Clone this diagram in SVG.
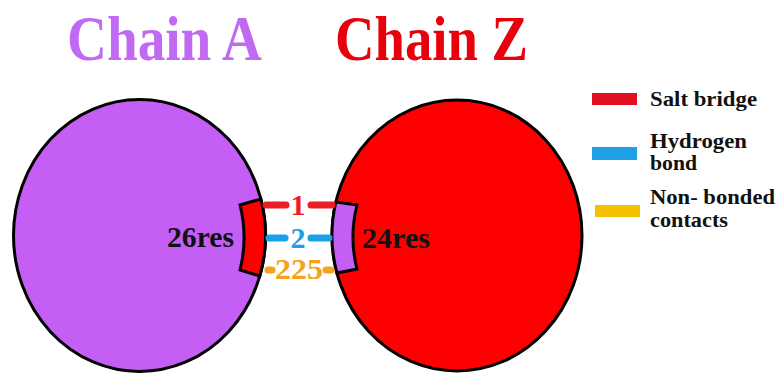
<svg xmlns="http://www.w3.org/2000/svg" width="777" height="373" viewBox="0 0 777 373">
  <style>
    text { font-family: 'Liberation Serif', 'DejaVu Serif', serif; font-weight: 700; }
    .title { font-size: 64px; }
    .res { font-size: 29px; fill: #111; }
    .count { font-size: 30px; text-anchor: middle; }
    .legend { font-size: 21px; fill: #111; }
    .chain { stroke: #000; stroke-width: 3; }
    .patch { stroke: #000; stroke-width: 3; stroke-linejoin: miter; }
    .bond { stroke-width: 7; stroke-linecap: round; fill: none; }
  </style>
  <rect width="777" height="373" fill="#ffffff"/>

  <!-- titles -->
  <text class="title" x="67" y="60" fill="#c069f2" textLength="195" lengthAdjust="spacingAndGlyphs">Chain A</text>
  <text class="title" x="335" y="60" fill="#e8000c" textLength="193" lengthAdjust="spacingAndGlyphs">Chain Z</text>

  <!-- chain A -->
  <g id="chainA">
    <ellipse class="chain" cx="139.5" cy="235.5" rx="126" ry="136" fill="#c45ef5"/>
    <path class="patch" fill="#ff0000" d="M240,205 L260.9,199 A126 136 0 0 1 259.8,276 L240,270 A134 134 0 0 0 240,205 Z"/>
    <text class="res" x="167" y="247" textLength="67" lengthAdjust="spacingAndGlyphs">26res</text>
  </g>

  <!-- chain Z -->
  <g id="chainZ">
    <ellipse class="chain" cx="457" cy="235.5" rx="125" ry="135.5" fill="#ff0000"/>
    <path class="patch" fill="#c45ef5" d="M335.9,202 L357,205 A130 130 0 0 0 357,269 L336.9,273 A125 135.5 0 0 1 335.9,202 Z"/>
    <text class="res" x="362" y="248" textLength="68" lengthAdjust="spacingAndGlyphs">24res</text>
  </g>

  <!-- interface connectors -->
  <g id="connectors">
    <line class="bond" stroke="#ee1c24" x1="266" y1="205" x2="286" y2="205"/>
    <line class="bond" stroke="#ee1c24" x1="311" y1="205" x2="332" y2="205"/>
    <text class="count" x="298" y="215" fill="#ee1c24">1</text>

    <line class="bond" stroke="#1a9fe8" x1="269" y1="238" x2="285" y2="238"/>
    <line class="bond" stroke="#1a9fe8" x1="311" y1="238" x2="329" y2="238"/>
    <text class="count" x="298" y="248" fill="#1a9fe8">2</text>

    <line class="bond" stroke="#f7a21b" x1="268" y1="270" x2="272" y2="270"/>
    <line class="bond" stroke="#f7a21b" x1="326" y1="270" x2="331" y2="270"/>
    <text class="count" x="299" y="279" fill="#f7a21b" textLength="48" lengthAdjust="spacingAndGlyphs">225</text>
  </g>

  <!-- legend -->
  <g id="legend">
    <rect x="592" y="93" width="45" height="12" fill="#e0101e"/>
    <text class="legend" x="650" y="106" textLength="107" lengthAdjust="spacingAndGlyphs">Salt bridge</text>
    <rect x="592" y="147" width="45" height="13" fill="#1fa0e6"/>
    <text class="legend" x="650" y="148" textLength="97" lengthAdjust="spacingAndGlyphs">Hydrogen</text>
    <text class="legend" x="650" y="170" textLength="47" lengthAdjust="spacingAndGlyphs">bond</text>
    <rect x="595" y="205" width="45" height="12" fill="#f5c000"/>
    <text class="legend" x="650" y="204" textLength="125" lengthAdjust="spacingAndGlyphs">Non- bonded</text>
    <text class="legend" x="650" y="227" textLength="78" lengthAdjust="spacingAndGlyphs">contacts</text>
  </g>
</svg>
